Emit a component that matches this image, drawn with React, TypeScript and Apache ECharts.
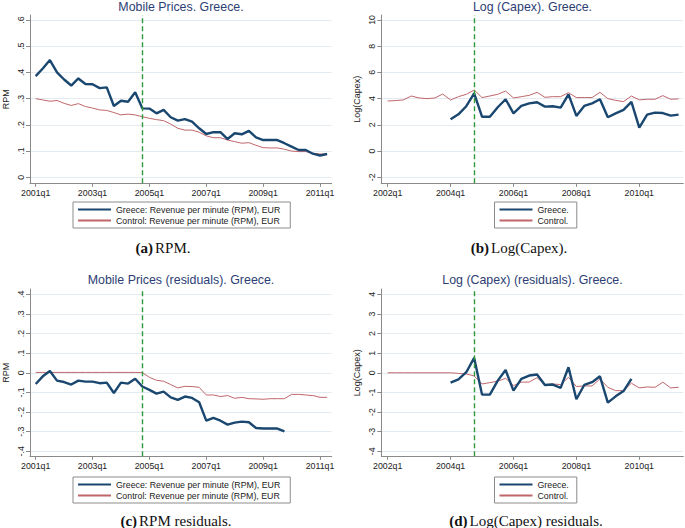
import React, { useEffect, useRef } from 'react';
import * as echarts from 'echarts';

// ---- Data (quarterly) ----
// Panel (a): RPM, from 2001q1
const rpmGreece = [0.386, 0.415, 0.447, 0.400, 0.373, 0.350, 0.377, 0.356, 0.355, 0.340, 0.343, 0.272, 0.292, 0.288, 0.324, 0.263, 0.262, 0.244, 0.257, 0.229, 0.216, 0.222, 0.212, 0.187, 0.165, 0.172, 0.172, 0.146, 0.168, 0.164, 0.177, 0.152, 0.142, 0.142, 0.142, 0.130, 0.117, 0.104, 0.104, 0.090, 0.083, 0.089];
const rpmControl = [0.300, 0.295, 0.290, 0.293, 0.282, 0.274, 0.281, 0.270, 0.264, 0.257, 0.255, 0.247, 0.238, 0.241, 0.238, 0.231, 0.225, 0.220, 0.216, 0.203, 0.187, 0.180, 0.180, 0.172, 0.158, 0.151, 0.151, 0.142, 0.136, 0.130, 0.132, 0.122, 0.113, 0.112, 0.112, 0.107, 0.100, 0.098, 0.098, 0.091, 0.089, 0.088];
// Panel (b): Log(Capex); Greece from 2004q1, Control from 2002q1
const capexGreece = [2.42, 2.80, 3.42, 4.40, 2.62, 2.62, 3.34, 3.95, 2.88, 3.44, 3.64, 3.72, 3.39, 3.42, 3.31, 4.33, 2.68, 3.44, 3.64, 3.95, 2.58, 2.88, 3.14, 3.75, 1.79, 2.78, 2.93, 2.90, 2.70, 2.78];
const capexControl = [3.82, 3.85, 3.90, 4.20, 4.05, 4.00, 4.05, 4.35, 3.90, 4.15, 4.33, 4.66, 4.08, 4.20, 4.33, 4.58, 4.05, 4.15, 4.25, 4.48, 4.10, 4.15, 4.15, 4.45, 4.08, 4.08, 4.08, 4.48, 4.00, 3.87, 3.77, 4.20, 3.90, 3.95, 3.95, 4.23, 3.95, 3.98];
// Panel (c): RPM residuals, from 2001q1
const resRpmGreece = [-0.057, -0.018, 0.009, -0.040, -0.047, -0.060, -0.040, -0.045, -0.045, -0.053, -0.050, -0.103, -0.050, -0.055, -0.030, -0.070, -0.087, -0.106, -0.096, -0.125, -0.138, -0.121, -0.128, -0.150, -0.244, -0.230, -0.244, -0.264, -0.254, -0.249, -0.252, -0.281, -0.284, -0.284, -0.284, -0.299];
const resRpmControl = [0.002, 0.002, 0.002, 0.002, 0.002, 0.002, 0.002, 0.002, 0.002, 0.002, 0.002, 0.002, 0.002, 0.002, 0.002, 0.001, -0.023, -0.038, -0.043, -0.060, -0.077, -0.069, -0.070, -0.074, -0.113, -0.113, -0.121, -0.116, -0.130, -0.125, -0.132, -0.133, -0.135, -0.132, -0.132, -0.132, -0.110, -0.110, -0.113, -0.116, -0.125, -0.125];
// Panel (d): Log(Capex) residuals; Greece from 2004q1, Control from 2002q1
const resCapexGreece = [-0.50, -0.33, 0.03, 0.76, -1.11, -1.11, -0.40, 0.14, -0.91, -0.31, -0.14, -0.09, -0.62, -0.60, -0.77, 0.28, -1.35, -0.62, -0.48, -0.18, -1.52, -1.20, -0.93, -0.31];
const resCapexControl = [0, 0, 0, 0, 0, 0, 0, 0, 0.0, -0.03, -0.06, -0.16, -0.57, -0.50, -0.43, -0.28, -0.65, -0.48, -0.47, -0.25, -0.60, -0.57, -0.60, -0.23, -0.70, -0.67, -0.67, -0.31, -0.74, -0.91, -0.91, -0.53, -0.77, -0.72, -0.74, -0.48, -0.77, -0.74];

// ---- Ticks ----
const xTicksRpm = [0, 8, 16, 24, 32, 40]; // quarter index from 2001q1
const xLabelsRpm = ['2001q1', '2003q1', '2005q1', '2007q1', '2009q1', '2011q1'];
const xTicksCapex = [0, 8, 16, 24, 32]; // quarter index from 2002q1
const xLabelsCapex = ['2002q1', '2004q1', '2006q1', '2008q1', '2010q1'];
const yTicksRpm = [0, 0.1, 0.2, 0.3, 0.4, 0.5, 0.6];
const yTicksCapex = [-2, 0, 2, 4, 6, 8, 10];
const yTicksResRpm = [-0.4, -0.3, -0.2, -0.1, 0, 0.1, 0.2, 0.3, 0.4];
const yTicksResCapex = [-4, -3, -2, -1, 0, 1, 2, 3, 4];
const treatRpm = 15; // 2004q4
const treatCapex = 11; // 2004q4

const greeceRpmName = 'Greece: Revenue per minute (RPM), EUR';
const controlRpmName = 'Control: Revenue per minute (RPM), EUR';
const greeceName = 'Greece.';
const controlName = 'Control.';

const FONT = '"Liberation Sans", Arial, sans-serif';
const SERIF = '"Liberation Serif", "Times New Roman", serif';
const NAVY = '#1a476f';
const MAROON = '#c0666b';
const GRID = '#e3ebf0';
const AXIS = '#8a8a8a';
const TXT = '#222';

const pairs = (vals: number[], start: number) => vals.map((v, i) => [start + i, v]);

const fmtDot = (v: number) => {
  if (Math.abs(v) < 1e-9) return '0';
  const s = Math.abs(v).toFixed(1).replace(/^0/, '');
  return (v < 0 ? '-' : '') + s;
};
const fmtInt = (v: number) => String(Math.round(v));

const mkX = (gridIndex: number, min: number, max: number, ticks: number[], labels: string[]) => ({
  type: 'value',
  gridIndex,
  min,
  max,
  splitLine: { show: false },
  axisLine: { show: true, onZero: false, lineStyle: { color: AXIS, width: 1 } },
  axisTick: { show: true, length: 3.5, customValues: ticks, lineStyle: { color: AXIS } },
  axisLabel: {
    customValues: ticks,
    formatter: (v: number) => {
      const k = ticks.indexOf(Math.round(v));
      return k >= 0 ? labels[k] : '';
    },
    fontSize: 8.8,
    color: TXT,
    fontFamily: FONT,
    margin: 5,
  },
});

const mkY = (gridIndex: number, min: number, max: number, ticks: number[], fmt: (v: number) => string, name: string) => ({
  type: 'value',
  gridIndex,
  min,
  max,
  name,
  nameLocation: 'middle',
  nameGap: 20,
  nameTextStyle: { fontSize: 9, color: TXT, fontFamily: FONT },
  axisLine: { show: true, onZero: false, lineStyle: { color: AXIS, width: 1 } },
  axisTick: { show: true, length: 4, customValues: ticks, lineStyle: { color: AXIS } },
  axisLabel: { customValues: ticks, rotate: 90, formatter: fmt, fontSize: 8.8, color: TXT, fontFamily: FONT, margin: 5 },
  splitLine: { show: true, lineStyle: { color: GRID, width: 1 } },
});

const treatLine = (x: number) => ({
  silent: true,
  symbol: ['none', 'none'],
  label: { show: false },
  lineStyle: { color: '#2e9a3a', type: [5, 3], width: 1.4 },
  data: [{ xAxis: x }],
});

const mkLines = (idx: number, gName: string, cName: string, g: number[][], c: number[][], treat: number) => [
  {
    type: 'line', name: cName, xAxisIndex: idx, yAxisIndex: idx, data: c,
    symbol: 'none', showSymbol: false, z: 2,
    lineStyle: { color: MAROON, width: 1 }, itemStyle: { color: MAROON },
  },
  {
    type: 'line', name: gName, xAxisIndex: idx, yAxisIndex: idx, data: g,
    symbol: 'none', showSymbol: false, z: 3,
    lineStyle: { color: NAVY, width: 2.4 }, itemStyle: { color: NAVY },
    markLine: treatLine(treat),
  },
];

const mkLegend = (left: number, top: number, names: string[], padRight: number) => ({
  orient: 'vertical',
  left,
  top,
  data: names,
  itemWidth: 33,
  itemHeight: 10,
  itemGap: 2,
  padding: [3, padRight, 3, 4],
  borderColor: '#8c8c8c',
  borderWidth: 1,
  backgroundColor: '#fff',
  selectedMode: false,
  itemStyle: { opacity: 0, borderWidth: 0 },
  textStyle: { fontSize: 8.8, color: TXT, fontFamily: FONT },
});

const mkTitle = (x: number, y: number, text: string) => ({
  type: 'text', x, y, silent: true,
  style: { text, textAlign: 'center', textVerticalAlign: 'middle', fontSize: 12.4, fontFamily: FONT, fill: '#2d3e74' },
});

const mkCaption = (x: number, y: number, tag: string, text: string) => ({
  type: 'text', x, y, silent: true,
  style: {
    text: `{b|(${tag})}{r|${text}}`,
    textAlign: 'center',
    textVerticalAlign: 'middle',
    rich: {
      b: { fontWeight: 'bold', fontSize: 15, fontFamily: SERIF, fill: '#111', padding: [0, 2, 0, 0] },
      r: { fontSize: 15, fontFamily: SERIF, fill: '#111' },
    },
  },
});

export default function App() {
  const ref = useRef<HTMLDivElement>(null);
  useEffect(() => {
    if (!ref.current) return;
    const chart = echarts.init(ref.current, null, { renderer: 'svg' });
    const gridA = { left: 30, top: 15, width: 301.7, height: 168.3, outerBoundsMode: 'none' };
    const gridB = { left: 381.3, top: 15, width: 302, height: 168.3, outerBoundsMode: 'none' };
    const gridC = { left: 30, top: 289, width: 301.7, height: 167.3, outerBoundsMode: 'none' };
    const gridD = { left: 381.3, top: 289, width: 302, height: 167.3, outerBoundsMode: 'none' };
    const option: any = {
      animation: false,
      backgroundColor: '#fff',
      grid: [gridA, gridB, gridC, gridD],
      xAxis: [
        mkX(0, -0.8, 41.65, xTicksRpm, xLabelsRpm),
        mkX(1, -0.81, 37.6, xTicksCapex, xLabelsCapex),
        mkX(2, -0.8, 41.65, xTicksRpm, xLabelsRpm),
        mkX(3, -0.81, 37.6, xTicksCapex, xLabelsCapex),
      ],
      yAxis: [
        mkY(0, -0.0229, 0.619, yTicksRpm, fmtDot, 'RPM'),
        mkY(1, -2.46, 10.38, yTicksCapex, fmtInt, 'Log(Capex)'),
        mkY(2, -0.4255, 0.427, yTicksResRpm, fmtDot, 'RPM'),
        mkY(3, -4.255, 4.27, yTicksResCapex, fmtInt, 'Log(Capex)'),
      ],
      legend: [
        mkLegend(73, 202, [greeceRpmName, controlRpmName], 10),
        mkLegend(494.5, 202, [greeceName, controlName], 8),
        mkLegend(73, 477, [greeceRpmName, controlRpmName], 10),
        mkLegend(494.5, 477, [greeceName, controlName], 8),
      ],
      series: [
        ...mkLines(0, greeceRpmName, controlRpmName, pairs(rpmGreece, 0), pairs(rpmControl, 0), treatRpm),
        ...mkLines(1, greeceName, controlName, pairs(capexGreece, 8), pairs(capexControl, 0), treatCapex),
        ...mkLines(2, greeceRpmName, controlRpmName, pairs(resRpmGreece, 0), pairs(resRpmControl, 0), treatRpm),
        ...mkLines(3, greeceName, controlName, pairs(resCapexGreece, 8), pairs(resCapexControl, 0), treatCapex),
      ],
      graphic: [
        mkTitle(181, 6.5, 'Mobile Prices. Greece.'),
        mkTitle(532.5, 6.5, 'Log (Capex). Greece.'),
        mkTitle(181, 280, 'Mobile Prices (residuals). Greece.'),
        mkTitle(532.5, 280, 'Log (Capex) (residuals). Greece.'),
        mkCaption(163, 248, 'a', 'RPM.'),
        mkCaption(519, 248, 'b', 'Log(Capex).'),
        mkCaption(176, 521, 'c', 'RPM residuals.'),
        mkCaption(526, 521, 'd', 'Log(Capex) residuals.'),
      ],
    };
    chart.setOption(option);
    return () => chart.dispose();
  }, []);
  return <div ref={ref} style={{ position: 'absolute', left: 0, top: 0, width: 685, height: 528 }} />;
}
